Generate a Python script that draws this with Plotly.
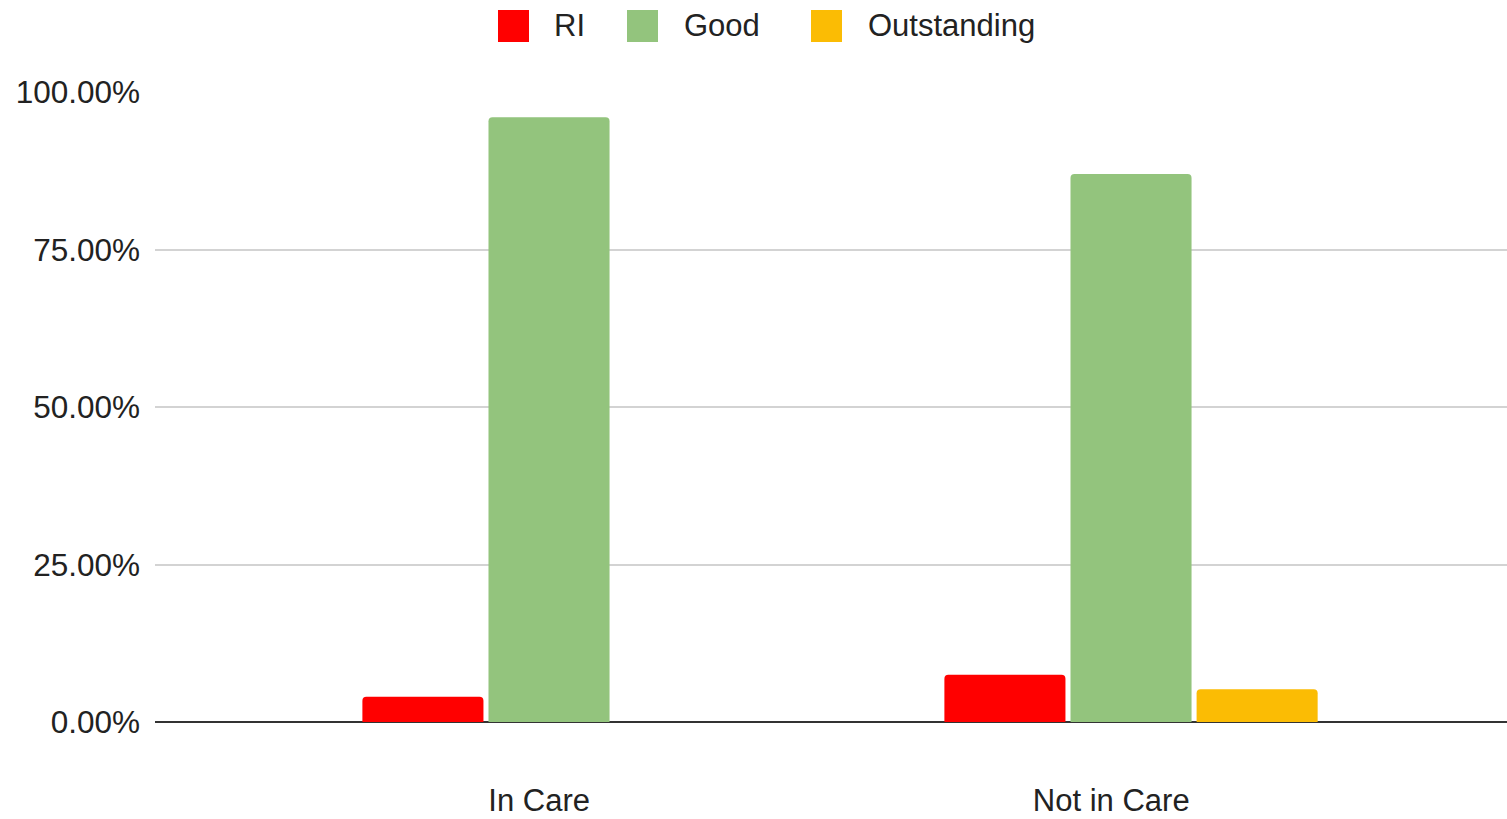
import plotly.graph_objects as go

# Share of pupils by rating, split by care status
categories = ["In Care", "Not in Care"]
cat_pos = [0, 1]
label_pos = [-0.017, 0.966]
series_names = ["RI", "Good", "Outstanding"]
ri = [0.040, 0.075]
good = [0.960, 0.870]
outstanding = [0.0, 0.052]
colors = ["#ff0000", "#93c47d", "#fbbc04"]
y_ticks = [0, 0.25, 0.5, 0.75, 1.0]

W, H = 1507, 819
ML, MR, MT, MB = 155, 0, 92, 97
FONT = "Liberation Sans, Arial, sans-serif"
TXT = "#222222"

fig = go.Figure()
for name, vals, col in zip(series_names, [ri, good, outstanding], colors):
    fig.add_trace(go.Bar(x=cat_pos, y=vals, name=name, marker_color=col,
                         marker_line_width=0, showlegend=False))

fig.update_layout(
    width=W, height=H,
    margin=dict(l=ML, r=MR, t=MT, b=MB),
    paper_bgcolor="white", plot_bgcolor="white",
    barmode="group", bargap=0.35, bargroupgap=0.04, barcornerradius=4,
    font=dict(family=FONT, color=TXT),
)
fig.update_xaxes(
    range=[-0.677, 1.646], tickvals=label_pos, ticktext=categories,
    showgrid=False, zeroline=False, showline=False, ticks="",
    tickfont=dict(size=31, color=TXT), ticklabelstandoff=57,
)
fig.update_yaxes(
    range=[0, 1.0], tickvals=y_ticks, tickformat=".2%",
    showgrid=True, gridcolor="#d3d3d3", gridwidth=1.5,
    zeroline=True, zerolinecolor="#333333", zerolinewidth=2,
    showline=False, ticks="", tickfont=dict(size=31.5, color=TXT),
    ticklabelstandoff=14,
)

# Legend drawn as large rounded swatches with labels above the plot
plot_w = W - ML - MR
plot_h = H - MT - MB
def px_x(px):
    return (px - ML) / plot_w
def px_y(py):
    return (H - MB - py) / plot_h

swatch_left = [498, 627, 811]
text_left = [552, 682, 866]
for name, col, sx, tx in zip(series_names, colors, swatch_left, text_left):
    fig.add_shape(type="rect", xref="paper", yref="paper",
                  x0=px_x(sx), x1=px_x(sx + 31), y0=px_y(42), y1=px_y(10),
                  fillcolor=col, line=dict(width=0), layer="above")
    fig.add_annotation(xref="paper", yref="paper", x=px_x(tx), y=px_y(26),
                       text=name, showarrow=False, xanchor="left", yanchor="middle",
                       font=dict(size=31, color=TXT, family=FONT))

fig.write_html("out.html")
